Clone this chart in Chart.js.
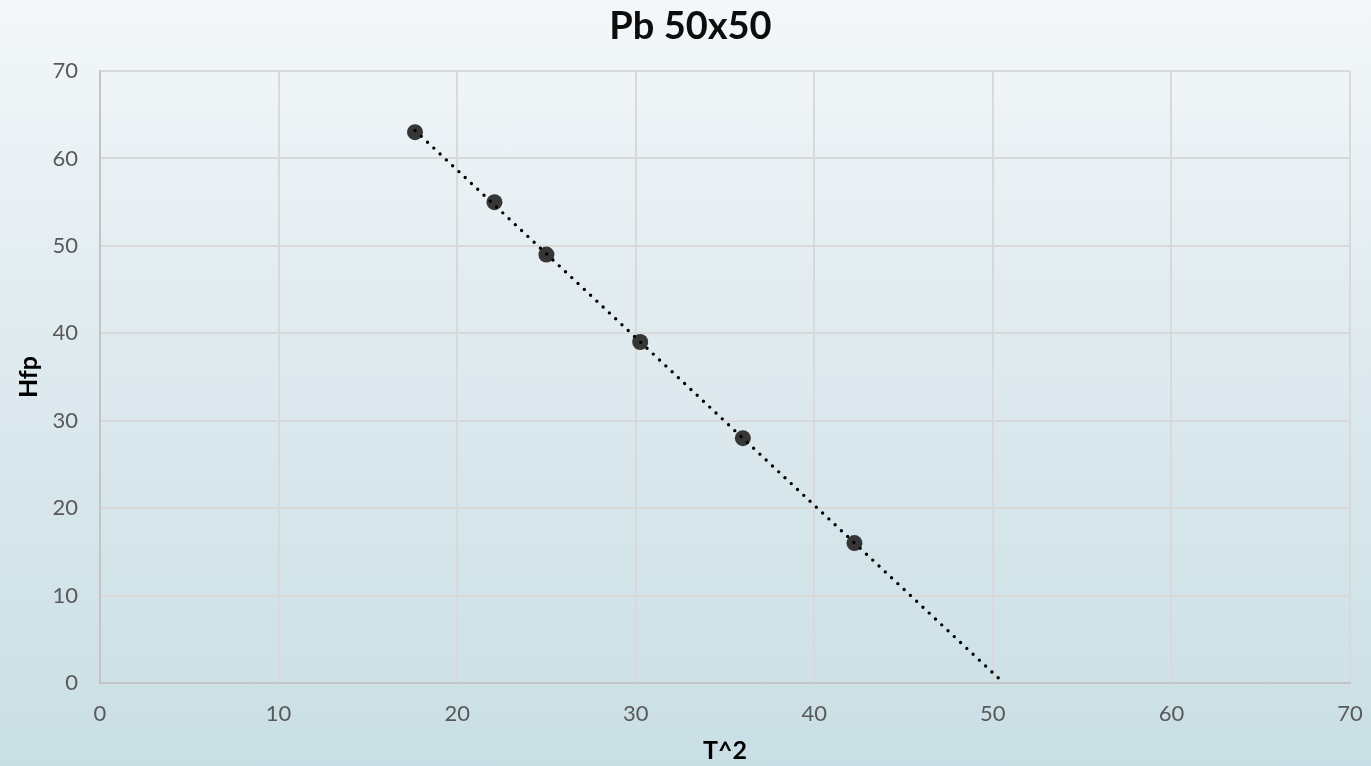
<!DOCTYPE html>
<html>
<head>
<meta charset="utf-8">
<script src="https://cdn.jsdelivr.net/npm/chart.js@4.4.1/dist/chart.umd.min.js"></script>
<style>
    html, body {
        margin: 0;
        padding: 0;
    }
    body {
        width: 1371px;
        height: 766px;
        overflow: hidden;
        background: linear-gradient(to bottom, #f3f7f9 0%, #dde9ee 50%, #c9dfe5 100%);
    }
    #wrap {
        position: relative;
        width: 1371px;
        height: 766px;
    }
</style>
</head>
<body>
<div id="wrap"><canvas id="chart"></canvas></div>
<script>
// Data
const tSquared = [17.64, 22.09, 25, 30.25, 36, 42.25];
const hfp = [63, 55, 49, 39, 28, 16];
const axisTicks = [0, 10, 20, 30, 40, 50, 60, 70];

const fontFamily = "'Century Gothic', Lato, 'Liberation Sans', sans-serif";
const tickColor = '#595959';
const gridColor = '#d9d9d9';

// Linear trendline (least squares), from first point forward to y = 0
function trendline(xs, ys) {
    const n = xs.length;
    const mx = xs.reduce((a, b) => a + b, 0) / n;
    const my = ys.reduce((a, b) => a + b, 0) / n;
    let sxy = 0, sxx = 0;
    for (let i = 0; i < n; i++) {
        sxy += (xs[i] - mx) * (ys[i] - my);
        sxx += (xs[i] - mx) * (xs[i] - mx);
    }
    const slope = sxy / sxx;
    const icpt = my - slope * mx;
    const x0 = Math.min(...xs);
    const x1 = -icpt / slope;
    return [{ x: x0, y: slope * x0 + icpt }, { x: x1, y: 0 }];
}

const points = tSquared.map((x, i) => ({ x: x, y: hfp[i] }));

// The title in the original sits a little right of centre
const titleShift = {
    id: 'titleShift',
    afterLayout(chart) {
        if (chart.titleBlock) {
            chart.titleBlock.left += 31;
        }
    }
};

const ctx = document.getElementById('chart').getContext('2d');
new Chart(ctx, {
    type: 'scatter',
    data: {
        datasets: [
            {
                label: 'Trend',
                data: trendline(tSquared, hfp),
                showLine: true,
                borderColor: '#000000',
                borderWidth: 3.4,
                borderDash: [0, 8.6],
                borderCapStyle: 'round',
                pointRadius: 0,
                order: 0
            },
            {
                label: 'Hfp',
                data: points,
                backgroundColor: '#363636',
                borderWidth: 0,
                pointRadius: 8,
                order: 1
            }
        ]
    },
    options: {
        responsive: true,
        maintainAspectRatio: false,
        animation: false,
        layout: {
            padding: { top: 0, right: 21, bottom: 0, left: 0 }
        },
        plugins: {
            legend: { display: false },
            tooltip: { enabled: false },
            title: {
                display: true,
                text: 'Pb 50x50',
                color: '#0d0d0d',
                font: { family: fontFamily, size: 38, weight: 'bold' },
                padding: { top: 3.5, bottom: 21.9 }
            }
        },
        scales: {
            x: {
                type: 'linear',
                min: 0,
                max: 70,
                afterBuildTicks: (scale) => {
                    scale.ticks = axisTicks.map(v => ({ value: v }));
                },
                afterFit: (scale) => {
                    scale.height = 83;
                    scale.paddingRight = 0;
                },
                grid: {
                    color: gridColor,
                    lineWidth: 2,
                    drawTicks: false
                },
                border: { color: '#c4c4c4', width: 2 },
                ticks: {
                    color: tickColor,
                    padding: 18,
                    font: { family: fontFamily, size: 22 }
                },
                title: {
                    display: true,
                    text: 'T^2',
                    color: '#000000',
                    font: { family: fontFamily, size: 25, weight: 'bold' },
                    padding: { top: 0, bottom: 0 }
                }
            },
            y: {
                type: 'linear',
                min: 0,
                max: 70,
                afterBuildTicks: (scale) => {
                    scale.ticks = axisTicks.map(v => ({ value: v }));
                },
                afterFit: (scale) => {
                    scale.width = 100;
                },
                grid: {
                    color: gridColor,
                    lineWidth: 2,
                    drawTicks: false
                },
                border: { color: '#c4c4c4', width: 2 },
                ticks: {
                    color: tickColor,
                    padding: 22,
                    font: { family: fontFamily, size: 22 }
                },
                title: {
                    display: true,
                    text: 'Hfp',
                    color: '#000000',
                    font: { family: fontFamily, size: 25, weight: 'bold' },
                    padding: { top: 14, bottom: 0 }
                }
            }
        }
    },
    plugins: [titleShift]
});
</script>
</body>
</html>
